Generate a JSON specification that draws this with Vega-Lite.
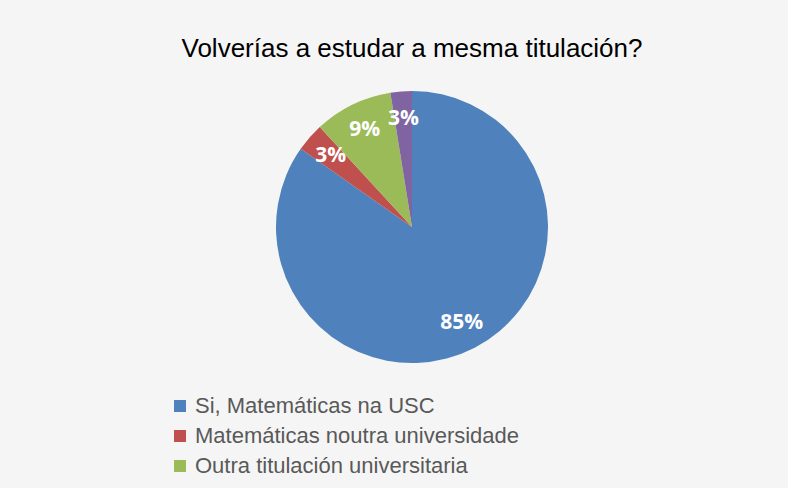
{
  "$schema": "https://vega.github.io/schema/vega-lite/v6.json",
  "width": 788,
  "height": 488,
  "autosize": {"type": "fit", "contains": "padding"},
  "padding": {"left": 42, "right": 6, "top": 0, "bottom": 34},
  "background": "#f5f5f5",
  "config": {"view": {"stroke": null}},
  "title": {
    "text": "Volverías a estudar a mesma titulación?",
    "font": "Liberation Sans",
    "fontSize": 26,
    "fontWeight": "normal",
    "color": "#000000",
    "anchor": "middle",
    "baseline": "top",
    "offset": -62
  },
  "data": {
    "values": [
      {"respuesta": "Si, Matemáticas na USC", "n": 100, "orde": 1, "etiqueta": "85%"},
      {"respuesta": "Matemáticas noutra universidade", "n": 4, "orde": 2, "etiqueta": "3%"},
      {"respuesta": "Outra titulación universitaria", "n": 11, "orde": 3, "etiqueta": "9%"},
      {"respuesta": "Non volvería a estudar", "n": 3, "orde": 4, "etiqueta": "3%"}
    ]
  },
  "encoding": {
    "theta": {"field": "n", "type": "quantitative", "stack": true},
    "order": {"field": "orde", "type": "quantitative"}
  },
  "layer": [
    {
      "mark": {"type": "arc", "radius": 136},
      "encoding": {
        "color": {
          "field": "respuesta",
          "type": "nominal",
          "scale": {
            "domain": ["Si, Matemáticas na USC", "Matemáticas noutra universidade", "Outra titulación universitaria", "Non volvería a estudar"],
            "range": ["#4f81bd", "#c0504d", "#9bbb59", "#8064a2"]
          },
          "legend": {
            "orient": "none",
            "legendX": 127,
            "legendY": 395,
            "title": null,
            "values": ["Si, Matemáticas na USC", "Matemáticas noutra universidade", "Outra titulación universitaria"],
            "symbolType": "square",
            "symbolSize": 144,
            "symbolStrokeWidth": 0,
            "labelFont": "Liberation Sans",
            "labelFontSize": 22,
            "labelColor": "#595959",
            "labelOffset": 4,
            "rowPadding": 8,
            "labelLimit": 600
          }
        }
      }
    },
    {
      "mark": {"type": "text", "radius": 108, "font": "Open Sans", "fontSize": 21, "fontWeight": "bold", "color": "white"},
      "encoding": {
        "text": {"field": "etiqueta", "type": "nominal"},
        "detail": {"field": "respuesta", "type": "nominal"}
      }
    }
  ]
}
